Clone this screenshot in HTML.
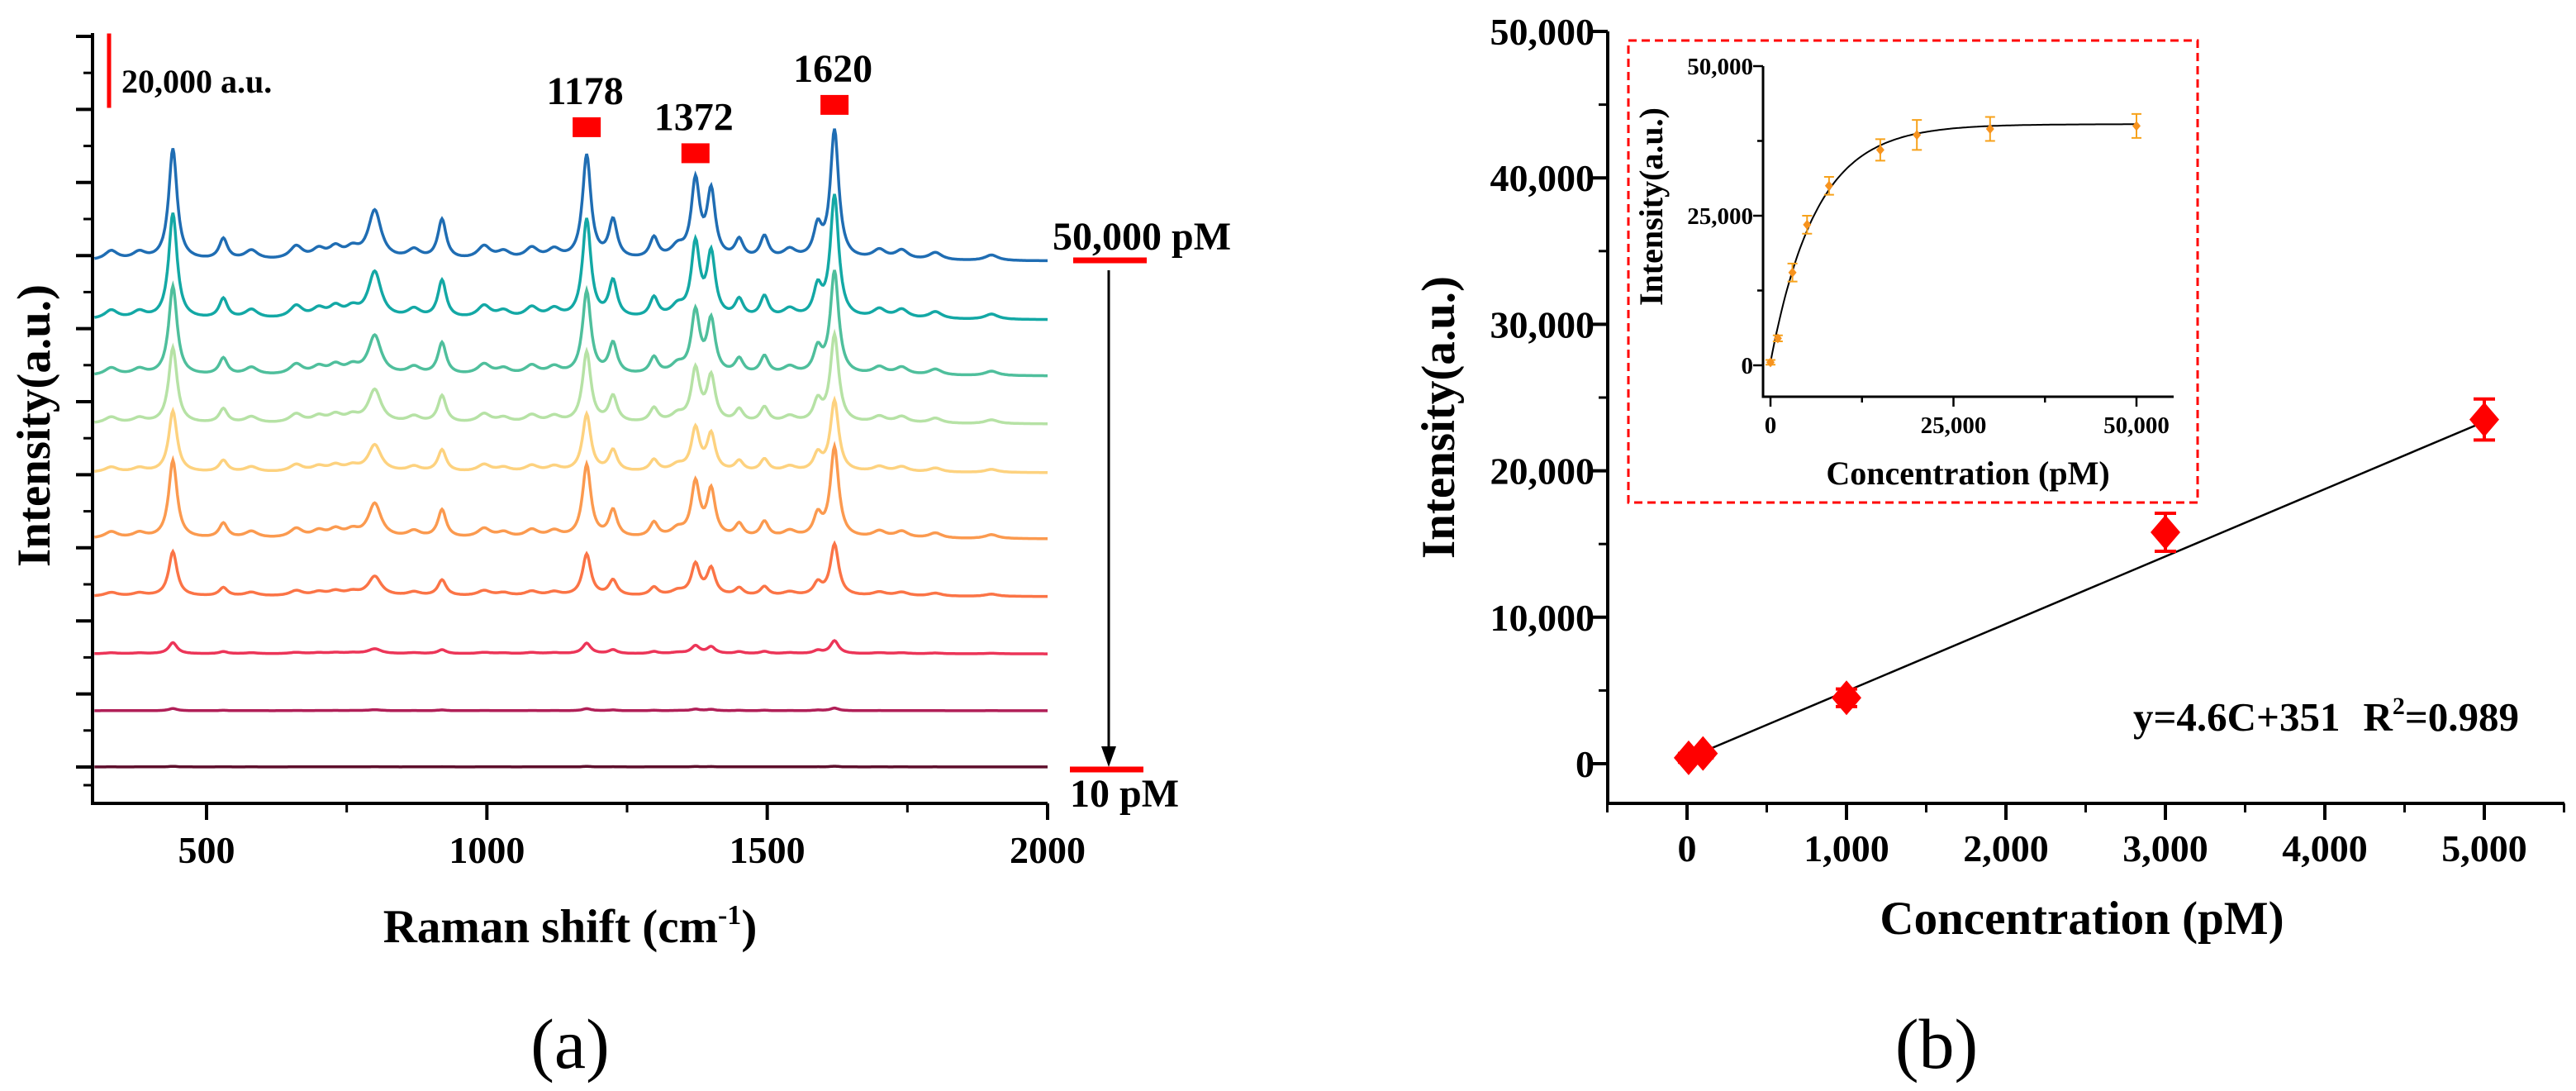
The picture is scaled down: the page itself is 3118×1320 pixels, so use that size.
<!DOCTYPE html>
<html><head><meta charset="utf-8"><style>
html,body{margin:0;padding:0;background:#fff;}
svg{display:block;font-family:"Liberation Serif",serif;}
</style></head><body>
<svg id="fig" width="3118" height="1320" viewBox="0 0 3118 1320" xmlns="http://www.w3.org/2000/svg"></svg>
<script>
// ---------- Panel (a) data ----------
const ramanTicks = [500, 1000, 1500, 2000];
const peakPos = [330, 380, 440, 530, 580, 660, 700, 730, 760, 800, 870, 920, 995, 1030, 1080, 1120, 1178, 1225, 1298, 1340, 1372, 1400, 1450, 1495, 1540, 1590, 1620, 1700, 1740, 1800, 1900];
const peakHeight = [2500, 2000, 30000, 5600, 2500, 3500, 2500, 3000, 2500, 13100, 2500, 10700, 3500, 2000, 3000, 2500, 28000, 10300, 5600, 3000, 20600, 17800, 5000, 6000, 2500, 8000, 34600, 2500, 2500, 2000, 1500];
const concLabels = ["50,000 pM","30,000 pM","20,000 pM","15,000 pM","8,000 pM","5,000 pM","3,000 pM","1,000 pM","100 pM","10 pM"];
const spectrumScale = [1.0, 0.95, 0.8, 0.68, 0.55, 0.7, 0.4, 0.1, 0.02, 0.005];
const spectrumOffset = [145800, 130000, 114900, 102000, 88900, 71100, 55600, 40200, 24900, 9800];
const spectrumColor = ["#1f6db3","#13a8a5","#4fbf9c","#b6e2a5","#fdd27f","#fb9a4f","#fb7446","#ec3558","#b01f57","#5e0f2c"];
const peakLabels = [1178, 1372, 1620];
const peakLabelHeight = [36000, 29000, 42000];

// ---------- Panel (b) data ----------
const calX = [10, 100, 1000, 3000, 5000];
const calY = [400, 700, 4500, 15800, 23500];
const calErr = [300, 300, 600, 1300, 1400];
const calSlope = 4.6, calIntercept = 351;
const bxTicks = [0, 1000, 2000, 3000, 4000, 5000];
const byTicks = [0, 10000, 20000, 30000, 40000, 50000];
const insX = [0, 1000, 3000, 5000, 8000, 15000, 20000, 30000, 50000];
const insY = [500, 4500, 15500, 23500, 30000, 36000, 38500, 39500, 40000];
const insErr = [400, 500, 1500, 1500, 1500, 1800, 2500, 2000, 2000];
const insTicks = [0, 25000, 50000];
const fitA = 40300, fitT = 6200;

const NS = "http://www.w3.org/2000/svg";
const svg = document.getElementById("fig");
function el(tag, attrs, parent, text) {
  const e = document.createElementNS(NS, tag);
  for (const k in attrs) e.setAttribute(k, attrs[k]);
  if (text !== undefined) e.textContent = text;
  (parent || svg).appendChild(e);
  return e;
}
function fmt(v){return v.toLocaleString("en-US");}

// ===== Panel (a) =====
const ga = el("g", {});


const aL = 112, aR = 1268, aT = 40, aB = 972;
const ax = v => 250 + (v - 500) * (1268 - 250) / 1500;
const ay = v => aB - v * 90 / 20000;

for (let s = 0; s < spectrumScale.length; s++) {
  let d = "";
  for (let w = 300; w <= 2000; w += 2) {
    let v = 0;
    for (let p = 0; p < peakPos.length; p++) {
      const hw = peakHeight[p] < 4000 ? 14 : (peakPos[p] === 800 ? 14 : 9);
      const dx = (w - peakPos[p]) / hw;
      v += peakHeight[p] / (1 + dx * dx);
    }
    const y = ay(spectrumOffset[s] + v * spectrumScale[s]);
    d += (w === 300 ? "M" : "L") + ax(w).toFixed(1) + "," + y.toFixed(1);
  }
  const path = el("path", {d: d, fill: "none", stroke: spectrumColor[s], "stroke-width": 3.5}, ga);
  
  
}

const axA = el("path", {d: `M${aL},${aT} L${aL},${aB} L${aR},${aB}`, fill: "none", stroke: "#000", "stroke-width": 4}, ga);


for (let k = 0; k < 11; k++) {
  const y = 928 - k * 88.4;
  el("line", {x1: aL - 20, x2: aL, y1: y, y2: y, stroke: "#000", "stroke-width": 4}, ga);
  if (k < 10) el("line", {x1: aL - 11, x2: aL, y1: y - 44.2, y2: y - 44.2, stroke: "#000", "stroke-width": 3}, ga);
}
el("line", {x1: aL - 11, x2: aL, y1: 950, y2: 950, stroke: "#000", "stroke-width": 3}, ga);
for (let w = 500; w <= 2000; w += 250) {
  const major = w % 500 === 0;
  el("line", {x1: ax(w), x2: ax(w), y1: aB, y2: aB + (major ? 20 : 11), stroke: "#000", "stroke-width": major ? 4 : 3}, ga);
}
ramanTicks.forEach(t => {
  const tx = el("text", {x: ax(t), y: 1044, "font-size": 46, "font-weight": "bold", "text-anchor": "middle"}, ga, String(t));
  
  
});
const xtA = el("text", {x: 690, y: 1140, "font-size": 57, "font-weight": "bold", "text-anchor": "middle"}, ga);


xtA.innerHTML = 'Raman shift (cm<tspan dy="-22" font-size="34">-1</tspan><tspan dy="22">)</tspan>';
const ytA = el("text", {x: 0, y: 0, "font-size": 57, "font-weight": "bold", "text-anchor": "middle", transform: "translate(60,515) rotate(-90)"}, ga, "Intensity(a.u.)");



const sb = el("line", {x1: 132, x2: 132, y1: ay(207000), y2: ay(187000), stroke: "#f00", "stroke-width": 5}, ga);


const sbt = el("text", {x: 147, y: 112, "font-size": 40, "font-weight": "bold"}, ga, "20,000 a.u.");



peakLabels.forEach((p, i) => {
  const y = ay(peakLabelHeight[i] + spectrumOffset[0]);
  const r = el("rect", {x: ax(p) - 17, y: y - 12, width: 34, height: 24, fill: "#f00"}, ga);
  
  
  const t = el("text", {x: ax(p) - 2, y: y - 28, "font-size": 48, "font-weight": "bold", "text-anchor": "middle"}, ga, String(p));
  
  
});

const t1 = el("text", {x: 1274, y: 302, "font-size": 48, "font-weight": "bold"}, ga, "50,000 pM");


el("line", {x1: 1299, x2: 1388, y1: 315, y2: 315, stroke: "#f00", "stroke-width": 7}, ga);
const arr = el("line", {x1: 1342, x2: 1342, y1: 327, y2: 905, stroke: "#000", "stroke-width": 3}, ga);


el("path", {d: "M1333,903 L1351,903 L1342,928 Z", fill: "#000"}, ga);
el("line", {x1: 1295, x2: 1384, y1: 931, y2: 931, stroke: "#f00", "stroke-width": 7}, ga);
const t2 = el("text", {x: 1295, y: 976, "font-size": 48, "font-weight": "bold"}, ga, "10 pM");


const pa = el("text", {x: 690, y: 1292, "font-size": 86, "text-anchor": "middle"}, ga, "(a)");



// ===== Panel (b) =====
const gb = el("g", {});


const bL = 1946, bR = 3104, bB = 972;
const bx = v => 2042 + v * (3007 - 2042) / 5000;
const by = v => 924 - v * 886 / 50000;
const axB = el("path", {d: `M${bL},38 L${bL},${bB} L${bR},${bB}`, fill: "none", stroke: "#000", "stroke-width": 4}, gb);


for (let v = 0; v <= 50000; v += 5000) {
  const major = v % 10000 === 0;
  el("line", {x1: bL - (major ? 20 : 11), x2: bL, y1: by(v), y2: by(v), stroke: "#000", "stroke-width": major ? 4 : 3}, gb);
}
for (let v = -500; v <= 5500; v += 500) {
  const major = v % 1000 === 0;
  el("line", {x1: bx(v), x2: bx(v), y1: bB, y2: bB + (major ? 20 : 11), stroke: "#000", "stroke-width": major ? 4 : 3}, gb);
}
byTicks.forEach(t => {
  const tx = el("text", {x: 1930, y: by(t) + 16, "font-size": 46, "font-weight": "bold", "text-anchor": "end"}, gb, fmt(t));
  
  
});
bxTicks.forEach(t => {
  const tx = el("text", {x: bx(t), y: 1042, "font-size": 46, "font-weight": "bold", "text-anchor": "middle"}, gb, fmt(t));
  
  
});
const xtB = el("text", {x: 2520, y: 1130, "font-size": 57, "font-weight": "bold", "text-anchor": "middle"}, gb, "Concentration (pM)");


const ytB = el("text", {x: 0, y: 0, "font-size": 57, "font-weight": "bold", "text-anchor": "middle", transform: "translate(1760,505) rotate(-90)"}, gb, "Intensity(a.u.)");



const fit = el("line", {x1: bx(100), y1: by(calSlope * 100 + calIntercept), x2: bx(5000), y2: by(calSlope * 5000 + calIntercept), stroke: "#000", "stroke-width": 2.5}, gb);


calX.forEach((x, i) => {
  const cx = bx(x), cy = by(calY[i]);
  const e1 = by(calY[i] + calErr[i]), e2 = by(calY[i] - calErr[i]);
  const eb = el("path", {d: `M${cx},${e1} L${cx},${e2} M${cx - 13},${e1} L${cx + 13},${e1} M${cx - 13},${e2} L${cx + 13},${e2}`, stroke: "#f00", "stroke-width": 4, fill: "none"}, gb);
  
  
  const m = el("path", {d: `M${cx},${cy - 21} L${cx + 18},${cy} L${cx},${cy + 21} L${cx - 18},${cy} Z`, fill: "#f00"}, gb);
  
  
});
const eq = el("text", {x: 2582, y: 884, "font-size": 49, "font-weight": "bold"}, gb);


eq.innerHTML = 'y=4.6C+351<tspan dx="28">R</tspan><tspan dy="-20" font-size="30">2</tspan><tspan dy="20">=0.989</tspan>';

const box = el("rect", {x: 1971, y: 49, width: 689, height: 559, fill: "#fff", stroke: "#f00", "stroke-width": 3, "stroke-dasharray": "10,6"}, gb);


const gi = el("g", {}, gb);


const ix = v => 2143 + v * (2586 - 2143) / 50000;
const iy = v => 442 - v * (442 - 80) / 50000;
el("path", {d: `M2134,80 L2134,480 L2631,480`, fill: "none", stroke: "#000", "stroke-width": 3}, gi);
for (let v = 0; v <= 50000; v += 12500) {
  const major = v % 25000 === 0;
  el("line", {x1: 2134 - (major ? 12 : 7), x2: 2134, y1: iy(v), y2: iy(v), stroke: "#000", "stroke-width": 2.5}, gi);
  el("line", {x1: ix(v), x2: ix(v), y1: 480, y2: 480 + (major ? 12 : 7), stroke: "#000", "stroke-width": 2.5}, gi);
}
insTicks.forEach(t => {
  const a = el("text", {x: 2122, y: iy(t) + 10, "font-size": 29, "font-weight": "bold", "text-anchor": "end"}, gi, fmt(t));
  
  
  const b = el("text", {x: ix(t), y: 524, "font-size": 29, "font-weight": "bold", "text-anchor": "middle"}, gi, fmt(t));
  
  
});
const ixt = el("text", {x: 2382, y: 586, "font-size": 40, "font-weight": "bold", "text-anchor": "middle"}, gi, "Concentration (pM)");


const iyt = el("text", {x: 0, y: 0, "font-size": 40, "font-weight": "bold", "text-anchor": "middle", transform: "translate(2012,250) rotate(-90)"}, gi, "Intensity(a.u.)");


let cd = "";
for (let x = 0; x <= 50000; x += 250) {
  const y = insY[0] + (fitA - insY[0]) * (1 - Math.exp(-x / fitT));
  cd += (x === 0 ? "M" : "L") + ix(x).toFixed(1) + "," + iy(y).toFixed(1);
}
const cur = el("path", {d: cd, fill: "none", stroke: "#000", "stroke-width": 2}, gi);


insX.forEach((x, i) => {
  const cx = ix(x), cy = iy(insY[i]);
  const e1 = iy(insY[i] + insErr[i]), e2 = iy(insY[i] - insErr[i]);
  const eb = el("path", {d: `M${cx},${e1} L${cx},${e2} M${cx - 6},${e1} L${cx + 6},${e1} M${cx - 6},${e2} L${cx + 6},${e2}`, stroke: "#f7a21b", "stroke-width": 2, fill: "none"}, gi);
  
  
  const m = el("path", {d: `M${cx},${cy - 6} L${cx + 5},${cy} L${cx},${cy + 6} L${cx - 5},${cy} Z`, fill: "#f7931e"}, gi);
  
  
});
const pb = el("text", {x: 2344, y: 1292, "font-size": 86, "text-anchor": "middle"}, gb, "(b)");


</script>
</body></html>
